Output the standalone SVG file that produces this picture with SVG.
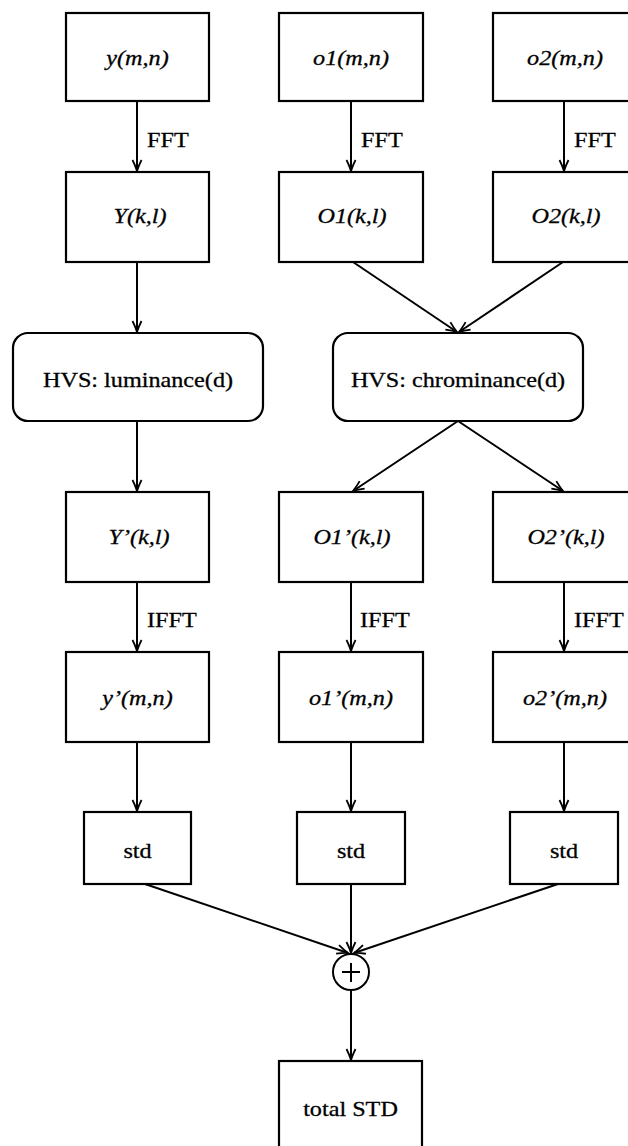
<svg xmlns="http://www.w3.org/2000/svg" width="628" height="1146" viewBox="0 0 628 1146">
<style>
.box{fill:#fff;stroke:#000;stroke-width:2.2}
.t{font-family:"Liberation Serif","Times New Roman",serif;font-size:22px;fill:#000;stroke:#000;stroke-width:0.3}
.c{text-anchor:middle}
.i{font-style:italic}
.e{fill:none;stroke:#000;stroke-width:2}
</style>
<defs>
<marker id="ah" markerUnits="userSpaceOnUse" markerWidth="14" markerHeight="12" viewBox="-12 -6 14 12" refX="0" refY="0" orient="auto">
<path d="M-11,-4.5 Q-5,-1.5 0,0 Q-5,1.5 -11,4.5" fill="none" stroke="#000" stroke-width="1.8"/>
</marker>
</defs>
<rect width="628" height="1146" fill="#fff"/>
<g id="edges">
<line class="e" x1="137" y1="101" x2="137" y2="171" marker-end="url(#ah)"/>
<line class="e" x1="351" y1="101" x2="351" y2="171" marker-end="url(#ah)"/>
<line class="e" x1="564" y1="101" x2="564" y2="171" marker-end="url(#ah)"/>
<line class="e" x1="137" y1="262" x2="137" y2="332" marker-end="url(#ah)"/>
<line class="e" x1="353" y1="262" x2="457" y2="332" marker-end="url(#ah)"/>
<line class="e" x1="563" y1="262" x2="459" y2="332" marker-end="url(#ah)"/>
<line class="e" x1="137" y1="421" x2="137" y2="491" marker-end="url(#ah)"/>
<line class="e" x1="458" y1="421" x2="353" y2="491" marker-end="url(#ah)"/>
<line class="e" x1="458" y1="421" x2="563" y2="491" marker-end="url(#ah)"/>
<line class="e" x1="137" y1="582" x2="137" y2="651" marker-end="url(#ah)"/>
<line class="e" x1="351" y1="582" x2="351" y2="651" marker-end="url(#ah)"/>
<line class="e" x1="564" y1="582" x2="564" y2="651" marker-end="url(#ah)"/>
<line class="e" x1="137" y1="742" x2="137" y2="811" marker-end="url(#ah)"/>
<line class="e" x1="351" y1="742" x2="351" y2="811" marker-end="url(#ah)"/>
<line class="e" x1="564" y1="742" x2="564" y2="811" marker-end="url(#ah)"/>
<line class="e" x1="145" y1="884" x2="348" y2="953" marker-end="url(#ah)"/>
<line class="e" x1="351" y1="884" x2="351" y2="953" marker-end="url(#ah)"/>
<line class="e" x1="558" y1="884" x2="354" y2="953" marker-end="url(#ah)"/>
<line class="e" x1="351" y1="990" x2="351" y2="1060" marker-end="url(#ah)"/>
<text class="t" transform="translate(147 147) scale(1.1 1)">FFT</text>
<text class="t" transform="translate(361 147) scale(1.1 1)">FFT</text>
<text class="t" transform="translate(574 147) scale(1.1 1)">FFT</text>
<text class="t" transform="translate(147 627) scale(1.1 1)">IFFT</text>
<text class="t" transform="translate(360 627) scale(1.1 1)">IFFT</text>
<text class="t" transform="translate(574 627) scale(1.1 1)">IFFT</text>
</g>
<g id="n_y"><rect class="box" x="66" y="13" width="143" height="88"/><text class="t c i" transform="translate(137.5 65) scale(1.1 1)">y(m,n)</text></g>
<g id="n_o1"><rect class="box" x="279" y="13" width="144" height="88"/><text class="t c i" transform="translate(351 65) scale(1.1 1)">o1(m,n)</text></g>
<g id="n_o2"><rect class="box" x="493" y="13" width="144" height="88"/><text class="t c i" transform="translate(565 65) scale(1.1 1)">o2(m,n)</text></g>
<g id="n_Y"><rect class="box" x="66" y="172" width="143" height="90"/><text class="t c i" transform="translate(140 223) scale(1.1 1)">Y(k,l)</text></g>
<g id="n_O1"><rect class="box" x="279" y="172" width="144" height="90"/><text class="t c i" transform="translate(352 223) scale(1.1 1)">O1(k,l)</text></g>
<g id="n_O2"><rect class="box" x="493" y="172" width="144" height="90"/><text class="t c i" transform="translate(566 223) scale(1.1 1)">O2(k,l)</text></g>
<g id="n_lum"><rect class="box" x="13" y="333" width="250" height="88" rx="15"/><text class="t c" transform="translate(138 387) scale(1.1 1)">HVS: luminance(d)</text></g>
<g id="n_chr"><rect class="box" x="333" y="333" width="250" height="88" rx="15"/><text class="t c" transform="translate(458 387) scale(1.1 1)">HVS: chrominance(d)</text></g>
<g id="n_Yp"><rect class="box" x="66" y="492" width="143" height="90"/><text class="t c i" transform="translate(139 544) scale(1.1 1)">Y’(k,l)</text></g>
<g id="n_O1p"><rect class="box" x="279" y="492" width="144" height="90"/><text class="t c i" transform="translate(352 544) scale(1.1 1)">O1’(k,l)</text></g>
<g id="n_O2p"><rect class="box" x="493" y="492" width="144" height="90"/><text class="t c i" transform="translate(566 544) scale(1.1 1)">O2’(k,l)</text></g>
<g id="n_yp"><rect class="box" x="66" y="652" width="143" height="90"/><text class="t c i" transform="translate(137.5 705) scale(1.1 1)">y’(m,n)</text></g>
<g id="n_o1p"><rect class="box" x="279" y="652" width="144" height="90"/><text class="t c i" transform="translate(351 705) scale(1.1 1)">o1’(m,n)</text></g>
<g id="n_o2p"><rect class="box" x="493" y="652" width="144" height="90"/><text class="t c i" transform="translate(565 705) scale(1.1 1)">o2’(m,n)</text></g>
<g id="n_std1"><rect class="box" x="84" y="812" width="107" height="72"/><text class="t c" transform="translate(137.5 858) scale(1.1 1)">std</text></g>
<g id="n_std2"><rect class="box" x="297" y="812" width="108" height="72"/><text class="t c" transform="translate(351 858) scale(1.1 1)">std</text></g>
<g id="n_std3"><rect class="box" x="510" y="812" width="108" height="72"/><text class="t c" transform="translate(564 858) scale(1.1 1)">std</text></g>
<g id="n_sum"><circle cx="351" cy="972" r="18" fill="#fff" stroke="#000" stroke-width="2"/><path d="M342,972 H360 M351,963 V982" stroke="#000" stroke-width="2"/></g>
<g id="n_total"><rect class="box" x="279" y="1061" width="143" height="90"/><text class="t c" transform="translate(350.5 1116) scale(1.1 1)">total STD</text></g>
</svg>
